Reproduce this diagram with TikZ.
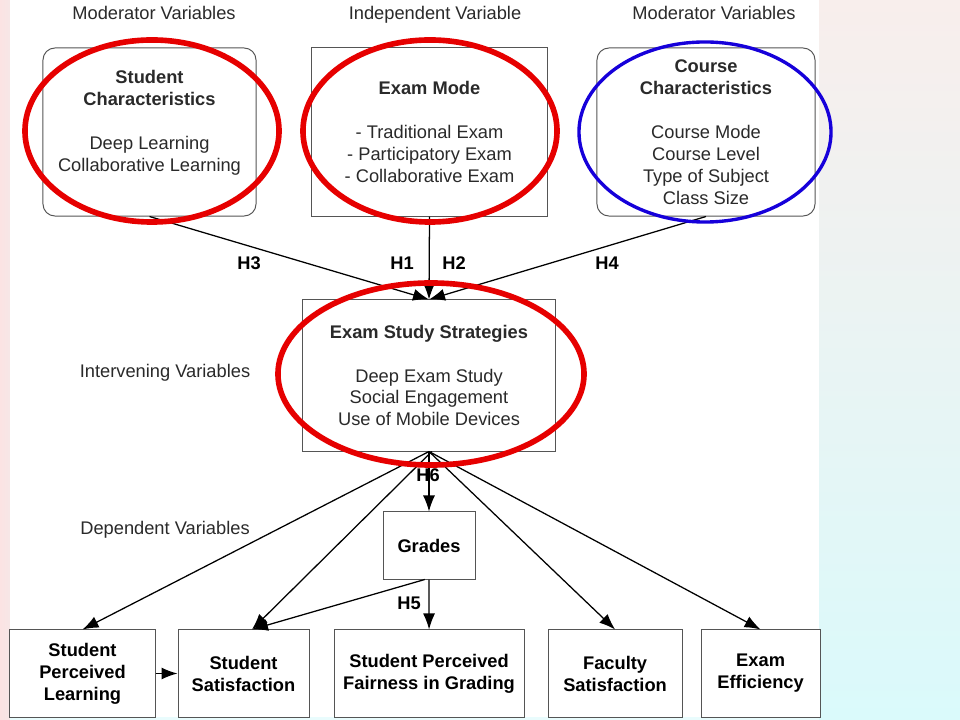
\documentclass[tikz,border=0pt]{standalone}
\usepackage{fontspec}
\setsansfont{Liberation Sans}
\usepackage{tikz}
\usetikzlibrary{arrows.meta, positioning}
\definecolor{markRed}{HTML}{E60000}
\definecolor{markBlue}{HTML}{1600DA}
\definecolor{boxGrey}{HTML}{555555}
\definecolor{textGrey}{HTML}{2A2A2A}
\definecolor{bgPink}{HTML}{FBE3E3}
\definecolor{bgPinkLow}{HTML}{EFEBEB}
\definecolor{bgTop}{HTML}{F8EEEC}
\definecolor{bgCyan}{HTML}{DAFAFB}
\newcommand{\diagfont}{\sffamily\fontsize{13}{15.6}\selectfont}

\begin{document}
\begin{tikzpicture}[x=0.025cm, y=-0.025cm, font=\diagfont, node distance=0.6cm,
        var/.style={draw=boxGrey, line width=0.7pt, fill=white, text=textGrey, align=center,
            inner sep=1pt},
        mod/.style={var, rounded corners=0.3cm, minimum height=4.2cm},
        dep/.style={var, font=\diagfont\bfseries, text=black, minimum height=2.175cm},
        cat/.style={text=textGrey, anchor=base},
        hyp/.style={font=\diagfont\bfseries, text=black},
        rel/.style={-{Latex[length=4mm, width=3mm]}, line width=0.9pt},
        ring/.style={draw=markRed, line width=4pt},
        ringBlue/.style={draw=markBlue, line width=2.4pt}]
        % background
        \fill[left color=bgPink, right color=bgPink!60!bgPinkLow] (0,0) rectangle (10,720);
        \shade[top color=bgTop, bottom color=bgCyan] (819,0) rectangle (960,720);
        \fill[white] (10,0) rectangle (819,717);
        \fill[bgCyan!60!white] (10,717) rectangle (819,720);
        \useasboundingbox (0,0) rectangle (960,720);

        \node[cat] (lmod1) at (154,20) {Moderator Variables};
        \node[cat] (lind) at (435,20) {Independent Variable};
        \node[cat] (lmod2) at (714,20) {Moderator Variables};
        \node[cat] (lint) at (165,378) {Intervening Variables};
        \node[cat] (ldep) at (165,534) {Dependent Variables};

        \node[mod, minimum width=5.325cm] (sc) at (149.5,132)
            {\textbf{Student}\\\textbf{Characteristics}\\[15.6pt]Deep Learning\\Collaborative Learning\\\mbox{}};
        \node[var, minimum width=5.875cm, minimum height=4.2cm] (em) at (429.5,132)
            {\textbf{Exam Mode}\\[15.6pt]- Traditional Exam\\- Participatory Exam\\- Collaborative Exam};
        \node[mod, minimum width=5.45cm] (cc) at (706,132)
            {\textbf{Course}\\\textbf{Characteristics}\\[15.6pt]Course Mode\\Course Level\\Type of Subject\\Class Size};
        \node[var, minimum width=6.3cm, minimum height=3.775cm] (ess) at (429,375.5)
            {\textbf{Exam Study Strategies}\\[15.6pt]Deep Exam Study\\Social Engagement\\Use of Mobile Devices};
        \node[dep, minimum width=2.3cm, minimum height=1.675cm] (gr) at (429,545.5) {Grades};

        \node[dep, minimum width=3.625cm] (spl) at (82.5,673.5) {Student\\Perceived\\Learning};
        \node[dep, minimum width=3.275cm, right=0.55cm of spl] (ss) {Student\\Satisfaction};
        \node[dep, minimum width=4.75cm, right=of ss] (spf) {Student Perceived\\Fairness in Grading};
        \node[dep, minimum width=3.35cm, right=0.575cm of spf] (fs) {Faculty\\Satisfaction};
        \node[dep, minimum width=2.975cm, right=0.45cm of fs] (ee) {Exam\\Efficiency};

        \draw[rel] (sc.south) -- (ess.north);
        \draw[rel] (em.south) -- (ess.north);
        \draw[rel] (cc.south) -- (ess.north);
        \draw[rel] (ess.south) -- (spl.north);
        \draw[rel] ([xshift=2pt]ess.south) -- ([xshift=6pt]ss.north);
        \draw[rel] (ess.south) -- (gr.north);
        \draw[rel] (ess.south) -- (fs.north);
        \draw[rel] (ess.south) -- (ee.north);
        \draw[rel] (gr.south) -- (spf.north);
        \draw[rel] ([xshift=-3pt]gr.south) -- ([xshift=6pt]ss.north);
        \draw[rel] (spl.east) -- (ss.west);

        \node[hyp] (h3) at (249,263) {H3};
        \node[hyp] (h1) at (402,263) {H1};
        \node[hyp] (h2) at (454,263) {H2};
        \node[hyp] (h4) at (607,263) {H4};
        \node[hyp] (h6) at (428,475) {H6};
        \node[hyp] (h5) at (409,603) {H5};

        \draw[ring] (152,131) ellipse [x radius=3.175cm, y radius=2.275cm];
        \draw[ring] (430,131) ellipse [x radius=3.175cm, y radius=2.275cm];
        \draw[ringBlue] (705,132) ellipse [x radius=3.15cm, y radius=2.25cm];
        \draw[ring] (431,374) ellipse [x radius=3.825cm, y radius=2.275cm];
    \end{tikzpicture}
\end{document}
